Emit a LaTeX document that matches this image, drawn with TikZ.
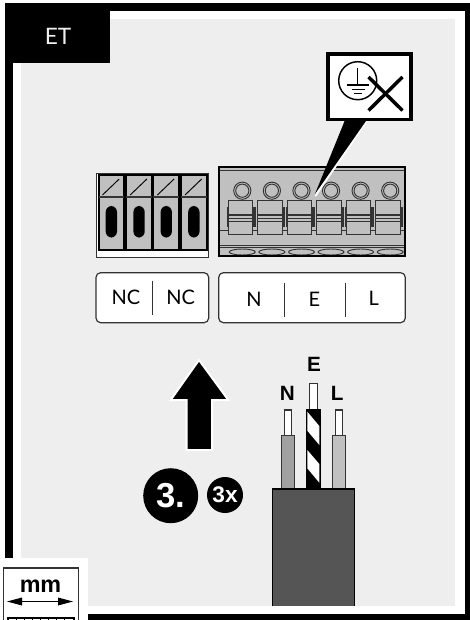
\documentclass[tikz,border=0pt]{standalone}
\usepackage{fontspec}
\setmainfont{Liberation Sans}
\newfontfamily\thinfont{Lato}
\definecolor{panel}{HTML}{EEEEEE}
\definecolor{metal}{HTML}{C0C0C0}
\definecolor{midgrey}{HTML}{A0A0A0}
\definecolor{jacket}{HTML}{555555}
\definecolor{linegrey}{HTML}{333333}
\tikzset{
  lbl/.style={inner sep=0pt,font=\thinfont\fontsize{15}{15}\selectfont,text=black},
  wirelbl/.style={inner sep=0pt,font=\bfseries\fontsize{15.5}{15.5}\selectfont},
  labelbox/.style={draw=linegrey,line width=0.9pt,fill=white,rounded corners=3.5pt},
  sep/.style={draw=linegrey,line width=0.7pt},
  bare/.style={draw=linegrey,line width=0.9pt,fill=white},
  swblock/.style={draw=linegrey,line width=0.7pt,fill=metal},
}
\begin{document}
\begin{tikzpicture}[x=0.75pt,y=-0.75pt]
\useasboundingbox (0,0) rectangle (470,620);
\fill[white] (0,0) rectangle (470,620);
% frame
\fill[black] (5,3) rectangle (470,620);
\fill[white] (13,11) rectangle (465,614);
\fill[panel] (21,19) rectangle (455,606);
\fill[black] (5,3) rectangle (110,63);
\node[inner sep=0pt,text=panel,font=\thinfont\fontsize{17}{17}\selectfont] (et) at (58,36.5) {ET};
% mm key
\fill[white] (0,558) rectangle (88,620);
\draw[draw=linegrey,line width=0.9pt,fill=white] (3.5,568) rectangle (78.5,622);
\node[inner sep=0pt,font=\bfseries\fontsize{17.5}{17.5}\selectfont] (mm) at (40.5,586) {mm};
\coordinate (mmL) at (7,601.5);
\coordinate (mmR) at (73,601.5);
\draw[line width=0.8pt] (22,601.5) -- (58,601.5);
\fill (mmL) -- (22,597.5) -- (22,605.5) -- cycle;
\fill (mmR) -- (58,597.5) -- (58,605.5) -- cycle;
\draw[line width=1.2pt] (8,623) -- (8,618) -- (74,618) -- (74,623);
\foreach \x in {16,24,32,40,48,56,64} \draw[line width=0.6pt] (\x,618) -- (\x,620);
% NC terminal
\draw[draw=linegrey,line width=0.6pt,fill=white] (96,173.5) rectangle (208.7,257.3);
\foreach \x in {98.5,126.2,153.4,181}{
  \draw[line width=1.5pt,fill=metal] (\x,175.5) rectangle ++(25.7,74);
  \draw[draw=linegrey,line width=1.2pt] (\x,197.3) -- ++(25.7,0);
  \draw[line width=0.7pt] (\x+4,195) -- ++(16.7,-16);
  \fill[black,rounded corners=4.5pt] (\x+7.2,206) rectangle ++(11.3,31.5);
}
% NEL terminal
\draw[line width=1.5pt,fill=metal] (218.7,166.7) rectangle (405.3,255.7);
\draw[draw=linegrey,line width=1.1pt] (219,170.5) -- (405,170.5);
\draw[draw=linegrey,line width=0.7pt] (219,230) -- (405,230);
\draw[draw=linegrey,line width=0.7pt] (219,245) -- (405,245);
\draw[draw=linegrey,line width=0.7pt] (219,247) -- (405,247);
\foreach \i in {0,...,5}{
  \pgfmathsetmacro{\cx}{242.3+29.58*\i}
  \pgfmathsetmacro{\bx}{228.3+29.5*\i}
  \draw[draw=linegrey,line width=0.7pt] (\cx,190.7) circle[radius=8.6];
  \draw[draw=linegrey,line width=0.7pt] (\cx,190.7) circle[radius=6.6];
  \fill[linegrey] (\bx+24.4,207) rectangle ++(3,19.5);
  \draw[draw=linegrey,line width=0.7pt] (\bx-0.7,207) -- ++(0,19.5);
  \draw[swblock] (\bx,200.7) rectangle ++(24.4,33.3);
  \draw[draw=linegrey,line width=1pt] (\bx,215) -- ++(24.4,0);
  \draw[draw=linegrey,line width=1pt] (\bx,218.5) -- ++(24.4,0);
  \draw[draw=linegrey,line width=0.6pt] (\bx,221) -- ++(24.4,0);
  \draw[draw=linegrey,line width=0.7pt,fill=metal] (\cx,252) ellipse[x radius=13,y radius=3];
}
\draw[line width=1.5pt] (218.7,166.7) rectangle (405.3,255.7);
% callout
\fill[white] (344,122) -- (314.5,196.5) -- (316.5,196) -- (367,122) -- cycle;
\fill[black] (345,120) -- (315,194) -- (366.7,120) -- cycle;
\draw[line width=2.4pt,fill=white] (328,54) rectangle (411,119.7);
\draw[line width=1.1pt] (357.7,80.7) circle[radius=19];
\draw[line width=1.1pt] (357.7,68) -- (357.7,85);
\draw[line width=1.2pt] (346.7,85.3) -- (368.5,85.3);
\draw[line width=1.2pt] (351.5,89.5) -- (364.5,89.5);
\draw[line width=1.2pt] (354,93.5) -- (362,93.5);
\draw[line width=2.6pt] (368.5,77) -- (402.5,110.5);
\draw[line width=2.6pt] (402.5,77) -- (368.5,110.5);
% label boxes
\draw[labelbox] (96,272.7) rectangle (208.7,322.7);
\draw[sep] (152,280.7) -- (152,315);
\node[lbl] (nc1) at (126,297) {NC};
\node[lbl] (nc2) at (180.7,297) {NC};
\draw[labelbox] (218.7,272.7) rectangle (405.3,322.7);
\draw[sep] (284.3,282.7) -- (284.3,316.7);
\draw[sep] (345.3,282.7) -- (345.3,316.7);
\node[lbl] (ln) at (254,299.3) {N};
\node[lbl] (le) at (314.3,299.3) {E};
\node[lbl] (ll) at (373.7,298) {L};
% arrow
\draw[white,line width=1.5pt,fill=black,miter limit=10] (199,360) -- (228.3,400) -- (212,400) -- (212,450) -- (186.7,450) -- (186.7,400) -- (170.7,400) -- cycle;
% step badges
\node[circle,fill=black,minimum size=55pt*0.75,inner sep=0pt,text=white,font=\bfseries\fontsize{26}{26}\selectfont] (stepa) at (170.7,495.7) {3.};
\node[circle,fill=black,minimum size=36pt*0.75,inner sep=0pt,text=white,font=\bfseries\fontsize{17}{17}\selectfont] (stepb) at (225,495) {3x};
% cable
\draw[bare] (284.3,410) rectangle (291.7,437);
\draw[bare] (335.7,410) rectangle (342.7,437);
\draw[bare] (309.7,383.5) rectangle (317.7,411);
\draw[draw=linegrey,line width=0.9pt,fill=midgrey] (281.3,435.7) rectangle (294.7,490);
\draw[draw=linegrey,line width=0.9pt,fill=metal] (332.3,435.7) rectangle (345.7,490);
\fill[black] (306.3,409.3) rectangle (321,490);
\fill[white] (307.3,411.7) -- (319.3,426) -- (319.3,445) -- (307.3,430.7) -- cycle;
\fill[white] (307.3,450) -- (319.3,464) -- (319.3,482.7) -- (307.3,468.3) -- cycle;
\draw[line width=1pt,fill=jacket] (272.3,606) -- (272.3,489) -- (354.3,489) -- (354.3,606);
\node[wirelbl] (we) at (314,364.3) {E};
\node[wirelbl] (wn) at (287.3,393.3) {N};
\node[wirelbl] (wl) at (337.3,393.3) {L};
\end{tikzpicture}
\end{document}
